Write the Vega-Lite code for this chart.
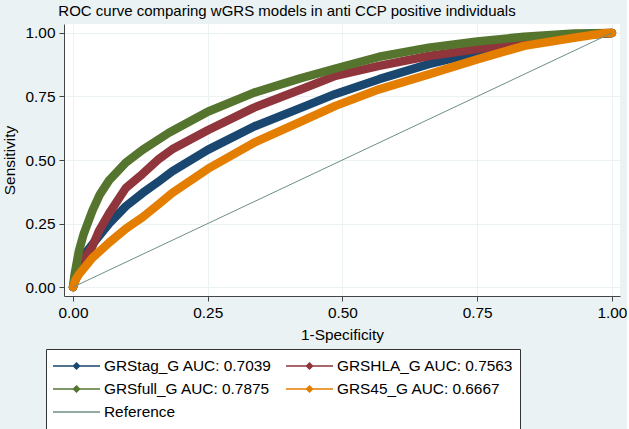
{
  "$schema": "https://vega.github.io/schema/vega-lite/v6.json",
  "width": 556,
  "height": 272,
  "padding": {"left": 2, "top": 4, "right": 0, "bottom": 0},
  "background": "#eaf2f3",
  "config": {
    "view": {"fill": "white", "stroke": null},
    "font": "Liberation Sans",
    "axis": {
      "labelFontSize": 15.4,
      "titleFontSize": 15.4,
      "titleFontWeight": "normal",
      "labelColor": "black",
      "titleColor": "black",
      "domainColor": "#444444",
      "tickColor": "#444444",
      "tickSize": 5,
      "gridColor": "#eaf2f3",
      "gridWidth": 1,
      "labelPadding": 4
    }
  },
  "title": {
    "text": "ROC curve comparing wGRS models in anti CCP positive individuals",
    "fontSize": 15,
    "fontWeight": "normal",
    "color": "black",
    "anchor": "middle",
    "dx": -55,
    "offset": 5
  },
  "data": {
    "values": [
      {"s": "GRStag_G AUC: 0.7039", "x": 0, "y": 0},
      {"s": "GRStag_G AUC: 0.7039", "x": 0.005, "y": 0.05},
      {"s": "GRStag_G AUC: 0.7039", "x": 0.011, "y": 0.1},
      {"s": "GRStag_G AUC: 0.7039", "x": 0.036, "y": 0.168},
      {"s": "GRStag_G AUC: 0.7039", "x": 0.067, "y": 0.25},
      {"s": "GRStag_G AUC: 0.7039", "x": 0.098, "y": 0.318},
      {"s": "GRStag_G AUC: 0.7039", "x": 0.129, "y": 0.37},
      {"s": "GRStag_G AUC: 0.7039", "x": 0.16, "y": 0.417},
      {"s": "GRStag_G AUC: 0.7039", "x": 0.184, "y": 0.455},
      {"s": "GRStag_G AUC: 0.7039", "x": 0.25, "y": 0.54},
      {"s": "GRStag_G AUC: 0.7039", "x": 0.336, "y": 0.632},
      {"s": "GRStag_G AUC: 0.7039", "x": 0.432, "y": 0.713},
      {"s": "GRStag_G AUC: 0.7039", "x": 0.487, "y": 0.76},
      {"s": "GRStag_G AUC: 0.7039", "x": 0.568, "y": 0.818},
      {"s": "GRStag_G AUC: 0.7039", "x": 0.66, "y": 0.877},
      {"s": "GRStag_G AUC: 0.7039", "x": 0.75, "y": 0.922},
      {"s": "GRStag_G AUC: 0.7039", "x": 0.84, "y": 0.96},
      {"s": "GRStag_G AUC: 0.7039", "x": 0.908, "y": 0.985},
      {"s": "GRStag_G AUC: 0.7039", "x": 1, "y": 1},
      {"s": "GRSHLA_G AUC: 0.7563", "x": 0, "y": 0},
      {"s": "GRSHLA_G AUC: 0.7563", "x": 0.01, "y": 0.06},
      {"s": "GRSHLA_G AUC: 0.7563", "x": 0.024, "y": 0.12},
      {"s": "GRSHLA_G AUC: 0.7563", "x": 0.036, "y": 0.16},
      {"s": "GRSHLA_G AUC: 0.7563", "x": 0.048, "y": 0.22},
      {"s": "GRSHLA_G AUC: 0.7563", "x": 0.067, "y": 0.29},
      {"s": "GRSHLA_G AUC: 0.7563", "x": 0.098, "y": 0.39},
      {"s": "GRSHLA_G AUC: 0.7563", "x": 0.129, "y": 0.445},
      {"s": "GRSHLA_G AUC: 0.7563", "x": 0.16, "y": 0.505},
      {"s": "GRSHLA_G AUC: 0.7563", "x": 0.184, "y": 0.542},
      {"s": "GRSHLA_G AUC: 0.7563", "x": 0.25, "y": 0.617},
      {"s": "GRSHLA_G AUC: 0.7563", "x": 0.336, "y": 0.706},
      {"s": "GRSHLA_G AUC: 0.7563", "x": 0.432, "y": 0.785},
      {"s": "GRSHLA_G AUC: 0.7563", "x": 0.487, "y": 0.831},
      {"s": "GRSHLA_G AUC: 0.7563", "x": 0.568, "y": 0.87},
      {"s": "GRSHLA_G AUC: 0.7563", "x": 0.66, "y": 0.909},
      {"s": "GRSHLA_G AUC: 0.7563", "x": 0.75, "y": 0.936},
      {"s": "GRSHLA_G AUC: 0.7563", "x": 0.84, "y": 0.965},
      {"s": "GRSHLA_G AUC: 0.7563", "x": 0.93, "y": 0.99},
      {"s": "GRSHLA_G AUC: 0.7563", "x": 1, "y": 1},
      {"s": "GRSfull_G AUC: 0.7875", "x": 0, "y": 0},
      {"s": "GRSfull_G AUC: 0.7875", "x": 0.003, "y": 0.05},
      {"s": "GRSfull_G AUC: 0.7875", "x": 0.011, "y": 0.142},
      {"s": "GRSfull_G AUC: 0.7875", "x": 0.02, "y": 0.21},
      {"s": "GRSfull_G AUC: 0.7875", "x": 0.036, "y": 0.3},
      {"s": "GRSfull_G AUC: 0.7875", "x": 0.05, "y": 0.365},
      {"s": "GRSfull_G AUC: 0.7875", "x": 0.067, "y": 0.42},
      {"s": "GRSfull_G AUC: 0.7875", "x": 0.098, "y": 0.49},
      {"s": "GRSfull_G AUC: 0.7875", "x": 0.129, "y": 0.54},
      {"s": "GRSfull_G AUC: 0.7875", "x": 0.178, "y": 0.607},
      {"s": "GRSfull_G AUC: 0.7875", "x": 0.25, "y": 0.69},
      {"s": "GRSfull_G AUC: 0.7875", "x": 0.336, "y": 0.765},
      {"s": "GRSfull_G AUC: 0.7875", "x": 0.42, "y": 0.82},
      {"s": "GRSfull_G AUC: 0.7875", "x": 0.487, "y": 0.86},
      {"s": "GRSfull_G AUC: 0.7875", "x": 0.568, "y": 0.906},
      {"s": "GRSfull_G AUC: 0.7875", "x": 0.66, "y": 0.942},
      {"s": "GRSfull_G AUC: 0.7875", "x": 0.75, "y": 0.966},
      {"s": "GRSfull_G AUC: 0.7875", "x": 0.837, "y": 0.985},
      {"s": "GRSfull_G AUC: 0.7875", "x": 0.93, "y": 0.998},
      {"s": "GRSfull_G AUC: 0.7875", "x": 1, "y": 1},
      {"s": "GRS45_G AUC: 0.6667", "x": 0, "y": 0},
      {"s": "GRS45_G AUC: 0.6667", "x": 0.005, "y": 0.03},
      {"s": "GRS45_G AUC: 0.6667", "x": 0.011, "y": 0.05},
      {"s": "GRS45_G AUC: 0.6667", "x": 0.036, "y": 0.115},
      {"s": "GRS45_G AUC: 0.6667", "x": 0.067, "y": 0.175},
      {"s": "GRS45_G AUC: 0.6667", "x": 0.098, "y": 0.23},
      {"s": "GRS45_G AUC: 0.6667", "x": 0.129, "y": 0.275},
      {"s": "GRS45_G AUC: 0.6667", "x": 0.16, "y": 0.328},
      {"s": "GRS45_G AUC: 0.6667", "x": 0.184, "y": 0.37},
      {"s": "GRS45_G AUC: 0.6667", "x": 0.25, "y": 0.465},
      {"s": "GRS45_G AUC: 0.6667", "x": 0.336, "y": 0.568},
      {"s": "GRS45_G AUC: 0.6667", "x": 0.432, "y": 0.66},
      {"s": "GRS45_G AUC: 0.6667", "x": 0.487, "y": 0.713},
      {"s": "GRS45_G AUC: 0.6667", "x": 0.568, "y": 0.778},
      {"s": "GRS45_G AUC: 0.6667", "x": 0.66, "y": 0.837},
      {"s": "GRS45_G AUC: 0.6667", "x": 0.75, "y": 0.896},
      {"s": "GRS45_G AUC: 0.6667", "x": 0.837, "y": 0.949},
      {"s": "GRS45_G AUC: 0.6667", "x": 0.93, "y": 0.981},
      {"s": "GRS45_G AUC: 0.6667", "x": 0.99, "y": 1.0},
      {"s": "GRS45_G AUC: 0.6667", "x": 1, "y": 1},
      {"s": "Reference", "x": 0, "y": 0},
      {"s": "Reference", "x": 1, "y": 1}
    ]
  },
  "encoding": {
    "x": {
      "field": "x",
      "type": "quantitative",
      "scale": {"domain": [-0.0167, 1.015], "nice": false, "zero": false},
      "axis": {"values": [0, 0.25, 0.5, 0.75, 1], "format": ".2f", "title": "1-Specificity", "titlePadding": 7}
    },
    "y": {
      "field": "y",
      "type": "quantitative",
      "scale": {"domain": [-0.035, 1.035], "nice": false, "zero": false},
      "axis": {"values": [0, 0.25, 0.5, 0.75, 1], "format": ".2f", "title": "Sensitivity", "titlePadding": 8}
    },
    "color": {
      "field": "s",
      "type": "nominal",
      "scale": {
        "domain": ["GRStag_G AUC: 0.7039", "GRSfull_G AUC: 0.7875", "Reference", "GRSHLA_G AUC: 0.7563", "GRS45_G AUC: 0.6667"],
        "range": ["#1a476f", "#55752f", "#6e8e84", "#90353b", "#e37e00"]
      },
      "legend": {
        "orient": "none",
        "legendX": -18,
        "legendY": 325,
        "title": null,
        "columns": 2,
        "labelFontSize": 15.4,
        "labelColor": "black",
        "labelLimit": 300,
        "symbolSize": 2209,
        "symbolStrokeWidth": 1.5,
        "symbolType": "M-1,0L1,0",
        "clipHeight": 22,
        "rowPadding": 1,
        "columnPadding": 13,
        "labelOffset": 3,
        "padding": 6,
        "strokeColor": "#333333",
        "fillColor": "white",
        "encode": {
          "symbols": {
            "update": {
              "shape": {"signal": "datum.value === 'Reference' ? 'M-1,0L1,0' : 'M-1,0L1,0M0,-0.13L0.13,0L0,0.13L-0.13,0Z'"},
              "fill": {"scale": "color", "field": "value"},
              "strokeWidth": {"value": 1.5}
            }
          }
        }
      }
    }
  },
  "layer": [
    {
      "transform": [{"filter": "datum.s !== 'Reference'"}],
      "mark": {"type": "line", "strokeWidth": 8.5, "strokeCap": "round", "strokeJoin": "round"}
    },
    {
      "transform": [{"filter": "datum.s === 'Reference'"}],
      "mark": {"type": "line", "strokeWidth": 1}
    }
  ]
}
